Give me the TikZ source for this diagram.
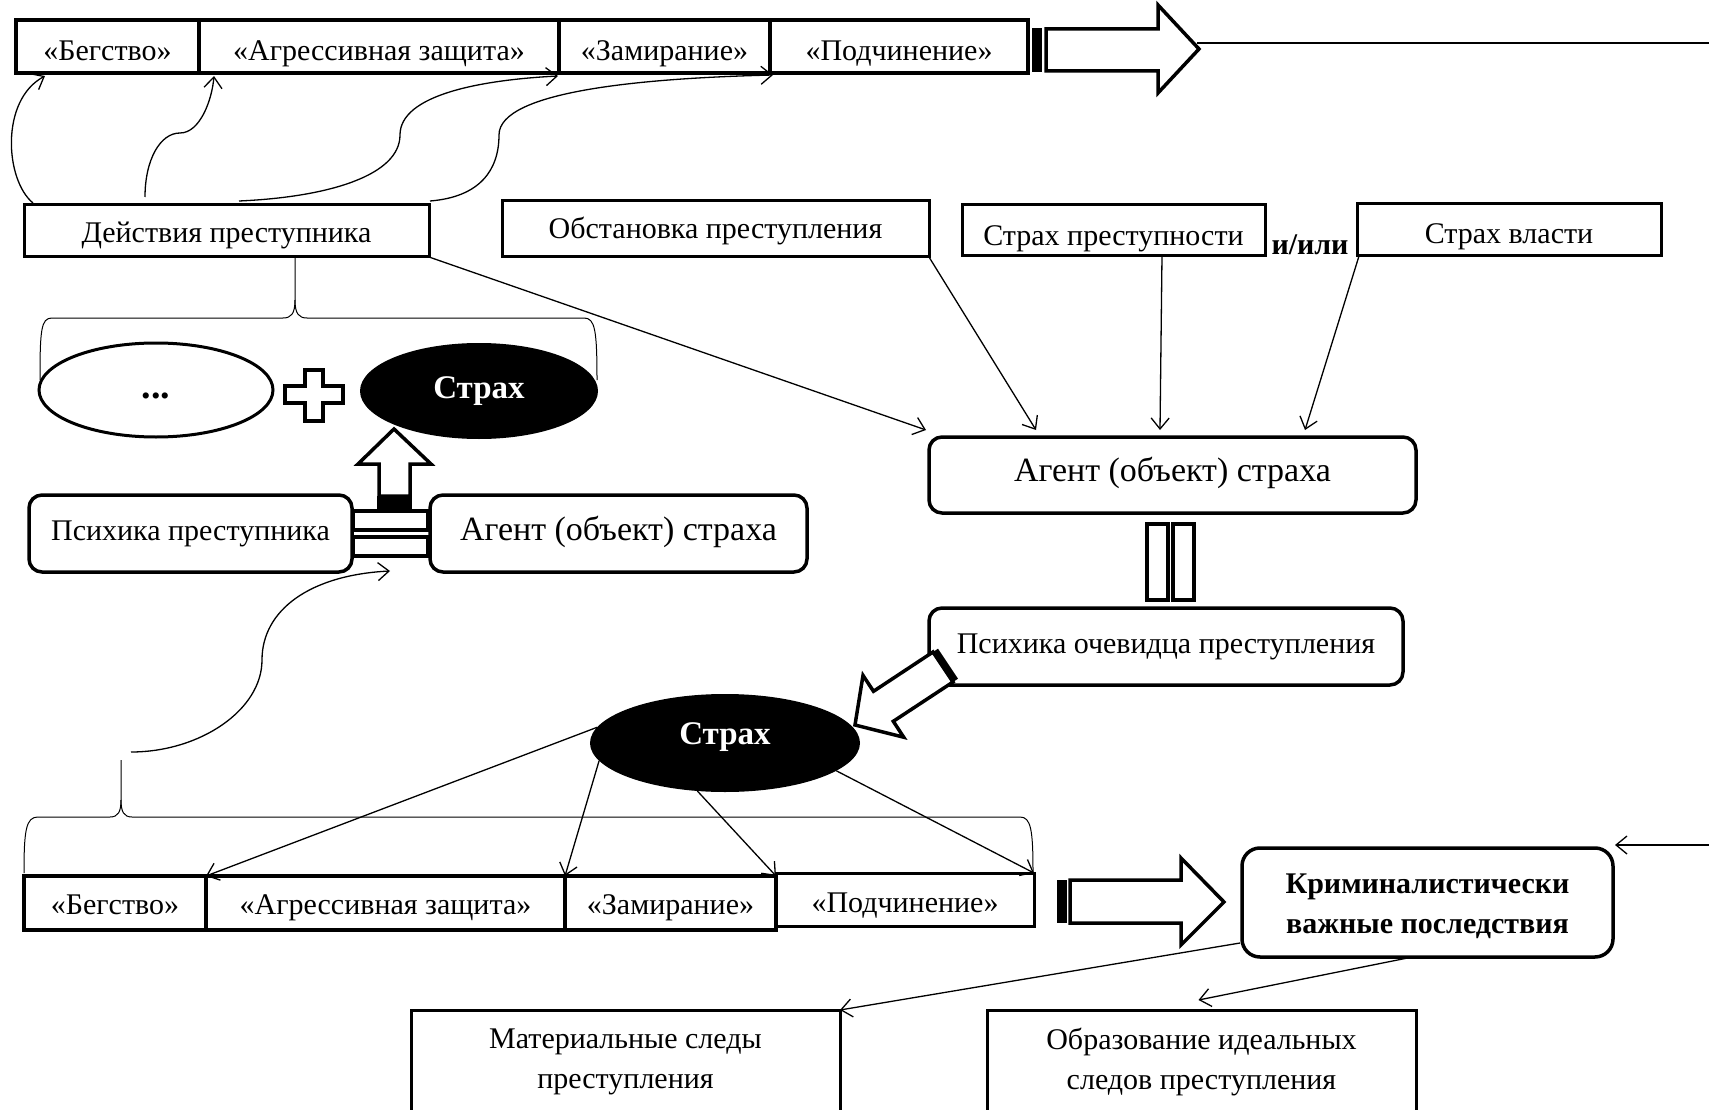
\documentclass[tikz,border=0pt]{standalone}
\usepackage{fontspec}
\setmainfont{Liberation Serif}
\usetikzlibrary{arrows.meta,calc,shapes.geometric}
\newcommand\fA{\fontsize{30pt}{40pt}\selectfont}
\newcommand\fB{\fontsize{34pt}{40pt}\selectfont}
\newcommand\fC{\fontsize{33pt}{40pt}\selectfont\bfseries}
\begin{document}
\begin{tikzpicture}[x=1pt,y=-1pt,
 every node/.style={inner sep=0pt,outer sep=0pt},
 th/.style={text height=#1,text depth=7.5pt},
 th/.default=21pt,
 cell/.style={draw,line width=3.5pt,minimum height=53pt,font=\fA,th=36pt},
 box/.style={draw,line width=3pt,font=\fA},
 rbox/.style={draw,line width=3.5pt,rounded corners=13pt,font=\fA,fill=white},
 conn/.style={line width=1.3pt,-{Straight Barb[length=11pt,width=18pt,line width=1.3pt]}},
 thinl/.style={line width=1pt},
 fat/.style={line width=3.5pt,line join=miter,fill=white},
]
\useasboundingbox (0,0) rectangle (1709,1110);
\clip (0,0) rectangle (1709,1110);

% top row
\node[cell,minimum width=183pt] (b1) at (107.5,46.5) {«Бегство»};
\node[cell,minimum width=360pt] (b2) at (379,46.5) {«Агрессивная защита»};
\node[cell,minimum width=211pt] (b3) at (664.5,46.5) {«Замирание»};
\node[cell,minimum width=258pt] (b4) at (899,46.5) {«Подчинение»};

% top big arrow
\fill (1032,28) rectangle (1042,72);
\draw[fat] (1046,29) -- (1158,29) -- (1158,5) -- (1199,49) -- (1158,93) -- (1158,71) -- (1046,71) -- cycle;
\coordinate (arrT) at (1197,43);
\coordinate (edgeT) at (1709,43);
\draw[line width=1.3pt] (arrT) -- (edgeT);

% second row boxes
\node[box,th=31pt,minimum width=405pt,minimum height=52pt] (deist) at (226.5,231) {Действия преступника};
\node[box,th=26pt,minimum width=427pt,minimum height=56pt] (obst) at (715.5,229) {Обстановка преступления};
\node[box,th=37pt,minimum width=303pt,minimum height=51pt] (sp) at (1113.5,230.5) {Страх преступности};
\node[font=\fA\bfseries] (ili) at (1310,245) {и/или};
\node[box,th=35pt,minimum width=304pt,minimum height=52pt] (sv) at (1509,230) {Страх власти};

% curved connectors to top row
\draw[conn] ($(deist.north west)+(9,-2)$) .. controls (5,180) and (0,100) .. ($(b1.south west)+(29,3)$);
\draw[conn] ($(deist.north west)+(121,-8)$) .. controls (145,160) and (160,133) .. (180,133) .. controls (200,133) and (212,100) .. ($(b2.south west)+(15,3)$);
\draw[conn] ($(deist.north)+(12.5,-4)$) .. controls (330,197) and (400,175) .. (400,135) .. controls (400,95) and (480,80) .. ($(b2.south east)+(-1,3)$);
\draw[conn] ($(deist.north east)+(1,-4)$) .. controls (480,197) and (499,170) .. (499,135) .. controls (499,90) and (650,78) .. ($(b3.south east)+(3,2)$);

% upper brace
\draw[thinl] (40,380) .. controls (40,330) and (41,318) .. (52,318) -- (283,318) .. controls (291,318) and (295,314) .. (295,300) -- ($(deist.south west)+(271,0)$);
\draw[thinl] (295,300) .. controls (295,314) and (299,318) .. (307,318) -- (584,318) .. controls (595,318) and (597,330) .. (597,380);

% ellipses and plus
\node[ellipse,draw,line width=3pt,minimum width=234pt,minimum height=94pt,text height=16pt,text depth=0pt] (dots) at (156,390) {\fontsize{38pt}{40pt}\selectfont\bfseries ...};
\draw[line width=3.5pt,line join=miter] (305,370) -- (323,370) -- (323,386) -- (343,386) -- (343,403) -- (323,403) -- (323,421) -- (305,421) -- (305,403) -- (285,403) -- (285,386) -- (305,386) -- cycle;
\node[ellipse,fill=black,minimum width=238pt,minimum height=96pt,text=white,font=\fC] (strah1) at (479,391) {Страх};

% left middle row
\node[rbox,th,minimum width=323pt,minimum height=77pt] (psP) at (190.5,533.5) {Психика преступника};
\node[rbox,th,font=\fB,minimum width=377pt,minimum height=77pt] (agL) at (618.5,533.5) {Агент (объект) страха};
\draw[line width=3.5pt] (353,511) rectangle (428,530);
\draw[line width=3.5pt] (353,537) rectangle (428,556);
\fill (377,496) rectangle (412,509);
\draw[fat] (379,496) -- (379,464) -- (358,464) -- (394,429) -- (431,464) -- (410,464) -- (410,496) -- cycle;

% right middle
\node[rbox,th,font=\fB,minimum width=487pt,minimum height=76pt] (agR) at (1172.5,475) {Агент (объект) страха};
\draw[conn] (deist.south east) -- ($(agR.north west)+(-3,-7)$);
\draw[conn] (obst.south east) -- ($(agR.north west)+(107,-7)$);
\draw[conn] ($(sp.south)+(48.5,0)$) -- ($(agR.north)+(-12.5,-7)$);
\draw[conn] ($(sv.south west)+(2,0)$) -- ($(agR.north)+(132.5,-7)$);
\draw[line width=3.5pt] (1147,524) rectangle (1168,600);
\draw[line width=3.5pt] (1173,524) rectangle (1194,600);
\node[rbox,th,minimum width=474pt,minimum height=77pt] (psO) at (1166,646.5) {Психика очевидца преступления};

% lower fear ellipse and diagonal arrow
\node[ellipse,fill=black,minimum width=270pt,minimum height=98pt,text=white,font=\fC,text height=9pt,text depth=7pt] (strah2) at (725,743) {Страх};
\fill (938,648.7) -- (928,655.3) -- (948,685.3) -- (958,678.7) -- cycle;
\draw[fat] (933,652) -- (873.5,691.3) -- (863,675.4) -- (855,725) -- (903.7,737.2) -- (893.3,721.3) -- (953,682) -- cycle;

% lower brace
\draw[thinl] (24,873) .. controls (24,830) and (26,817) .. (38,817) -- (110,817) .. controls (118,817) and (121,812) .. (121,800) -- (121,760);
\draw[thinl] (121,800) .. controls (121,812) and (124,817) .. (132,817) -- (1020,817) .. controls (1031,817) and (1033,830) .. (1033,872);
\coordinate (lcstart) at (131,752);
\draw[conn] (lcstart) .. controls (200,752) and (262,710) .. (262,660) .. controls (262,610) and (310,575) .. ($(agL.south west)+(-40,-1)$);

% bottom row
\node[box,th=31pt,line width=3.5pt,minimum width=182pt,minimum height=54pt] (c1) at (115,903) {«Бегство»};
\node[box,th=31pt,line width=3.5pt,minimum width=359pt,minimum height=54pt] (c2) at (385.5,903) {«Агрессивная защита»};
\node[box,th=31pt,line width=3.5pt,minimum width=211pt,minimum height=54pt] (c3) at (670.5,903) {«Замирание»};
\node[box,th=33pt,line width=3pt,minimum width=258pt,minimum height=53pt] (c4) at (905,899.5) {«Подчинение»};
\draw[conn] (strah2.173.6) -- (c2.north west);
\draw[conn] (strah2.188) -- (c2.north east);
\draw[conn] (strah2.240.6) -- (c3.north east);
\draw[conn] (strah2.346) -- (c4.north east);

% bottom big arrow
\fill (1057,880) rectangle (1067,923);
\draw[fat] (1070,880) -- (1181,880) -- (1181,858) -- (1224,902) -- (1181,945) -- (1181,923) -- (1070,923) -- cycle;

% consequences
\node[rbox,align=center,rounded corners=18pt,minimum width=371pt,minimum height=109pt] (krim) at (1427.5,902.5) {};
\node[font=\fA\bfseries,align=center] (krimT) at (1427.5,906) {Криминалистически\\важные последствия};
\coordinate (edgeK) at (1709,845);
\draw[conn] (edgeK) -- ($(krim.north east)+(2,-3)$);

\node[box,minimum width=429pt,minimum height=160pt] (mat) at (625.5,1090) {};
\node[font=\fA,align=center] (matT) at (625.5,1062) {Материальные следы\\преступления};
\node[box,minimum width=429pt,minimum height=160pt] (obr) at (1201.5,1090) {};
\node[font=\fA,align=center] (obrT) at (1201.5,1062) {Образование идеальных\\следов преступления};
\draw[conn] ($(krim.south west)+(-2,-14)$) -- (mat.north east);
\draw[conn] ($(krim.south)+(-20,1)$) -- ($(obr.north)+(-3,-10)$);
\end{tikzpicture}
\end{document}
